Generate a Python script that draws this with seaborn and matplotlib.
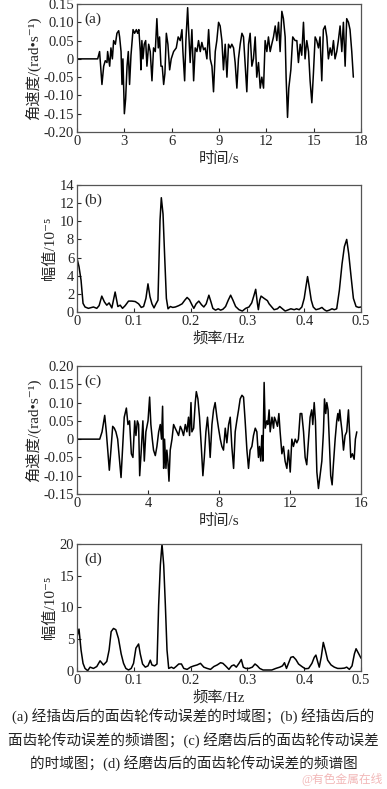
import numpy as np
import matplotlib
matplotlib.use("Agg")
import matplotlib.pyplot as plt
import seaborn as sns

# (a) angular speed error after gear shaping, time domain
t_a = [0, 1.31, 1.43, 1.58, 1.69, 1.79, 1.90, 1.94, 2.07, 2.15, 2.24, 2.32, 2.43, 2.53, 2.64, 2.70, 2.79,
       2.85, 2.91, 3.00, 3.08, 3.17, 3.25, 3.33, 3.42, 3.55, 3.65, 3.76, 3.84, 3.92, 4.01, 4.05, 4.11,
       4.18, 4.26, 4.35, 4.43, 4.54, 4.64, 4.75, 4.85, 4.96, 5.06, 5.15, 5.23, 5.32, 5.40, 5.49, 5.57,
       5.66, 5.76, 5.87, 5.97, 6.12, 6.29, 6.41, 6.54, 6.65, 6.71, 6.82, 6.90, 7.01, 7.07, 7.17, 7.28,
       7.39, 7.49, 7.60, 7.70, 7.81, 7.91, 8.02, 8.12, 8.23, 8.34, 8.44, 8.55, 8.65, 8.76, 8.86, 8.97,
       9.07, 9.18, 9.28, 9.39, 9.50, 9.60, 9.71, 9.81, 9.92, 10.02, 10.13, 10.23, 10.34, 10.45, 10.55,
       10.66, 10.76, 10.87, 10.97, 11.08, 11.18, 11.29, 11.39, 11.50, 11.61, 11.71, 11.82, 11.92, 12.03,
       12.13, 12.24, 12.34, 12.45, 12.56, 12.66, 12.77, 12.87, 12.98, 13.08, 13.19, 13.25, 13.34, 13.42,
       13.55, 13.67, 13.82, 13.93, 14.03, 14.14, 14.24, 14.35, 14.45, 14.56, 14.67, 14.77, 14.88, 14.98,
       15.09, 15.19, 15.30, 15.40, 15.51, 15.61, 15.72, 15.83, 15.93, 16.04, 16.14, 16.25, 16.35, 16.46,
       16.56, 16.67, 16.78, 16.88, 16.99, 17.09, 17.20, 17.30, 17.41, 17.51]
w_a = [0, 0, 0.02, -0.07, -0.02, -0.005, -0.01, 0.02, -0.02, 0.03, 0.0, 0.05, 0.04, 0.07, 0.077, 0.06, 0.02,
       -0.07, 0.0, -0.15, -0.11, -0.02, 0.02, -0.07, 0.01, 0.08, 0.07, 0.08, 0.07, 0.08, 0.02, -0.03, 0.05,
       0.0, 0.04, 0.05, -0.02, 0.04, 0.02, -0.06, 0.03, 0.02, 0.11, 0.03, 0.06, -0.02, -0.02, -0.07, -0.04,
       0.07, 0.04, -0.03, 0.0, 0.02, 0.03, 0.06, 0.05, 0.08, 0.02, -0.06, 0.05, 0.14, 0.08, -0.01, 0.08,
       -0.06, 0.03, 0.02, 0.05, 0.02, 0.045, 0.025, 0.03, 0.0, 0.08, 0.0, -0.02, -0.09, 0.02, 0.05, 0.10,
       0.09, 0.05, -0.03, 0.04, -0.05, 0.04, 0.03, 0.04, 0.03, -0.01, -0.08, 0.0, 0.04, 0.07, 0.06,
       -0.02, -0.09, 0.04, 0.07, -0.02, 0.0, 0.06, -0.05, -0.01, -0.08, -0.05, -0.08, 0.05, 0.02,
       0.06, 0.02, 0.04, 0.06, 0.09, 0.05, 0.10, 0.02, 0.13, 0.11, 0.06, -0.05, -0.16, -0.08,
       -0.03, 0.06, 0.05, 0.05, -0.01, 0.04, 0.01, 0.10, 0.0, 0.05, 0.02, -0.06, -0.12, -0.04,
       0.06, 0.05, 0.03, 0.06, -0.06, 0.08, 0.09, 0.06, 0.0, 0.03, 0.01, 0.05, 0.0, 0.02,
       0.05, 0.09, 0.02, 0.10, -0.02, 0.11, 0.10, 0.08, 0.02, -0.05]

# (b) spectrum of (a)
f_b = [0.0, 0.0035, 0.0071, 0.0106, 0.0141, 0.020, 0.0289, 0.0348, 0.0389, 0.0436, 0.0483, 0.0524, 0.0565,
       0.0613, 0.0671, 0.0719, 0.076, 0.0801, 0.0848, 0.0907, 0.0966, 0.1025, 0.1084, 0.1131, 0.1172,
       0.1213, 0.1249, 0.1284, 0.1319, 0.1355, 0.139, 0.1425, 0.1461, 0.1484, 0.1514, 0.1543, 0.1573,
       0.1602, 0.1643, 0.1685, 0.1732, 0.1791, 0.185, 0.1897, 0.1938, 0.1979, 0.2026, 0.2056, 0.2097,
       0.2144, 0.2191, 0.2232, 0.2274, 0.2321, 0.2356, 0.2391, 0.2438, 0.2486, 0.2527, 0.2568, 0.2615,
       0.2662, 0.2704, 0.2745, 0.2792, 0.2851, 0.291, 0.2969, 0.3027, 0.3075, 0.3116, 0.3145, 0.3175,
       0.3192, 0.3216, 0.324, 0.3293, 0.3351, 0.3381, 0.3428, 0.3469, 0.3528, 0.3569, 0.3616, 0.3664,
       0.3705, 0.3764, 0.3823, 0.3864, 0.3911, 0.3958, 0.3999, 0.4029, 0.4058, 0.4088, 0.4123, 0.4158,
       0.4205, 0.4264, 0.4311, 0.4353, 0.4394, 0.4441, 0.4488, 0.4529, 0.4571, 0.4618, 0.4665, 0.4706,
       0.4747, 0.4783, 0.4824, 0.4865, 0.4912, 0.4959, 0.5]
amp_b = [5.9, 5.0, 3.5, 0.95, 0.55, 0.4, 0.55, 0.4, 0.7, 1.75, 1.1, 0.75, 1.0,
         0.45, 2.2, 0.6, 0.75, 0.4, 0.7, 1.2, 1.2, 1.15, 0.9, 0.5, 0.6,
         1.5, 3.1, 1.7, 0.9, 0.45, 0.9, 1.3, 10.1, 12.6, 10.8, 6.1, 1.5,
         0.35, 0.6, 0.5, 0.55, 0.7, 0.9, 1.3, 1.6, 1.35, 0.75, 0.4, 0.9,
         1.2, 0.8, 0.55, 0.9, 1.85, 1.15, 0.4, 0.2, 0.35, 0.2, 0.3, 0.6,
         1.3, 1.85, 1.3, 0.6, 0.25, 0.1, 0.4, 0.55, 1.0, 1.85, 2.5, 0.95,
         0.25, 1.3, 1.75, 1.5, 1.25, 0.9, 0.55, 0.25, 0.35, 0.6, 0.35, 0.1,
         0.2, 0.35, 0.25, 0.35, 0.25, 0.55, 1.5, 2.75, 3.9, 2.75, 1.3, 0.55,
         0.25, 0.35, 0.5, 0.25, 0.1, 0.2, 0.35, 0.25, 0.35, 2.4, 5.3, 7.2,
         8.0, 6.4, 3.9, 1.5, 0.6, 0.5, 0.55]

# (c) angular speed error after gear grinding, time domain
t_c = [0, 1.28, 1.41, 1.56, 1.65, 1.73, 1.82, 1.91, 2.01, 2.10, 2.19, 2.29, 2.38, 2.48, 2.57, 2.66, 2.78,
       2.87, 2.96, 3.06, 3.15, 3.25, 3.32, 3.40, 3.47, 3.53, 3.62, 3.71, 3.79, 3.88, 4.00, 4.09, 4.16,
       4.24, 4.31, 4.41, 4.50, 4.60, 4.69, 4.76, 4.82, 4.88, 4.93, 5.01, 5.06, 5.12, 5.18, 5.25, 5.35,
       5.44, 5.53, 5.63, 5.72, 5.82, 5.91, 6.00, 6.10, 6.19, 6.28, 6.34, 6.42, 6.47, 6.57, 6.66, 6.72,
       6.81, 6.90, 7.00, 7.09, 7.17, 7.26, 7.35, 7.43, 7.50, 7.60, 7.69, 7.78, 7.88, 7.97, 8.07, 8.16,
       8.25, 8.35, 8.44, 8.54, 8.63, 8.72, 8.82, 8.91, 9.00, 9.10, 9.19, 9.29, 9.38, 9.47, 9.57, 9.66,
       9.75, 9.85, 9.94, 10.04, 10.13, 10.22, 10.28, 10.35, 10.41, 10.47, 10.54, 10.60, 10.69, 10.75,
       10.82, 10.88, 10.98, 11.07, 11.12, 11.20, 11.29, 11.37, 11.44, 11.54, 11.63, 11.72, 11.82, 11.91,
       12.01, 12.10, 12.19, 12.29, 12.38, 12.47, 12.57, 12.66, 12.76, 12.85, 12.94, 13.04, 13.13, 13.22,
       13.28, 13.36, 13.43, 13.51, 13.60, 13.69, 13.79, 13.88, 13.94, 14.01, 14.07, 14.14, 14.22, 14.29,
       14.37, 14.44, 14.54, 14.63, 14.69, 14.74, 14.80, 14.86, 14.93, 15.01, 15.10, 15.19, 15.29, 15.34,
       15.42, 15.51, 15.61, 15.68, 15.76]
w_c = [0, 0, 0.02, 0.065, 0.02, -0.03, -0.085, -0.03, 0.035, 0.03, 0.02, 0.0, -0.05, -0.105, -0.02, 0.06, 0.085,
       0.04, 0.05, -0.04, -0.05, 0.05, 0.01, 0.05, 0.04, -0.10, -0.03, 0.05, -0.06, 0.02, 0.05, 0.115, 0.04,
       0.0, -0.03, -0.045, -0.02, 0.02, 0.04, 0.0, 0.09, -0.08, 0.0, -0.08, -0.03, -0.06, -0.115, -0.03, 0.0,
       0.04, 0.03, 0.02, 0.01, 0.035, 0.025, 0.01, 0.04, 0.02, 0.06, 0.01, 0.10, 0.02, 0.03, 0.10, 0.13,
       0.11, 0.06, -0.02, -0.10, -0.05, 0.02, 0.06, 0.01, -0.05, 0.04, 0.08, 0.10, 0.06, 0.03, 0.0, -0.02,
       -0.03, 0.03, -0.01, 0.04, 0.06, -0.02, -0.08, 0.02, 0.05, 0.08, 0.11, 0.12, 0.115, 0.05, -0.03, -0.08,
       -0.03, -0.02, 0.01, 0.03, 0.02, -0.05, -0.02, -0.06, 0.01, -0.06, 0.155, 0.03, 0.05, 0.04,
       0.08, 0.02, 0.06, 0.03, 0.06, 0.05, 0.035, 0.07, 0.02, -0.04, -0.02, -0.06, -0.08, -0.03,
       -0.09, 0.0, -0.02, 0.0, -0.01, 0.0, 0.07, 0.07, 0.02, -0.05, -0.07, 0.0, 0.06, 0.08,
       0.04, 0.10, 0.05, -0.09, -0.135, -0.10, -0.06, 0.02, 0.11, 0.07, 0.10, 0.08, -0.02, -0.10,
       -0.125, -0.07, 0.0, 0.05, 0.07, 0.05, 0.08, 0.05, 0.02, -0.03, 0.01, 0.02, 0.08, 0.03,
       -0.05, -0.04, -0.055, 0.0, 0.02]

# (d) spectrum of (c)
f_d = [0.0, 0.0035, 0.0071, 0.0106, 0.0141, 0.0188, 0.023, 0.0289, 0.0348, 0.0406, 0.0465, 0.0524, 0.0565,
       0.0601, 0.0642, 0.0683, 0.073, 0.0777, 0.0819, 0.086, 0.0907, 0.0954, 0.0995, 0.1037, 0.1084, 0.1113,
       0.1154, 0.1202, 0.1249, 0.129, 0.1319, 0.1366, 0.1408, 0.1437, 0.1467, 0.1496, 0.1526, 0.1555, 0.1584,
       0.1614, 0.1661, 0.1702, 0.1743, 0.1791, 0.1838, 0.1879, 0.1938, 0.1997, 0.2056, 0.2115, 0.2173, 0.2232,
       0.2291, 0.235, 0.2409, 0.2468, 0.2527, 0.2568, 0.2615, 0.2674, 0.2721, 0.2762, 0.2804, 0.2851, 0.2892,
       0.2927, 0.2969, 0.3027, 0.3086, 0.3133, 0.3175, 0.3216, 0.3275, 0.3351, 0.3428, 0.3499, 0.3569, 0.3616,
       0.3652, 0.3687, 0.3722, 0.3764, 0.3805, 0.3852, 0.3899, 0.3958, 0.4017, 0.4076, 0.4135, 0.4176, 0.4205,
       0.4235, 0.4264, 0.43, 0.4335, 0.437, 0.4412, 0.4471, 0.4529, 0.4588, 0.4647, 0.4706, 0.4747, 0.4794,
       0.4841, 0.4883, 0.4912, 0.4959, 0.5]
amp_d = [5.4, 6.6, 3.3, 1.2, 0.4, 0.05, 0.6, 0.4, 0.7, 1.6, 0.95, 1.5, 3.3,
         6.2, 6.7, 6.5, 5.1, 2.7, 1.2, 0.4, 0.15, 0.4, 1.2, 3.6, 4.25, 2.7,
         1.1, 0.6, 0.8, 1.7, 0.95, 0.8, 1.1, 10.4, 16.7, 20.0, 16.7, 10.4, 3.3,
         0.4, 0.6, 0.4, 0.7, 1.1, 1.1, 0.4, 0.25, 0.6, 0.8, 0.95, 1.2, 0.6,
         0.4, 0.25, 0.7, 0.95, 1.3, 1.2, 0.8, 0.25, 0.8, 0.95, 0.6, 1.2, 1.8,
         0.6, 0.4, 0.4, 0.6, 1.1, 0.8, 0.4, 0.15, 0.15, 0.15, 0.4, 0.6, 0.8,
         1.3, 0.4, 1.2, 2.15, 2.25, 1.8, 1.1, 0.7, 0.35, 0.4, 1.2, 2.15, 2.5,
         1.5, 0.6, 2.25, 4.5, 3.3, 1.7, 0.95, 0.6, 0.4, 0.4, 0.45, 0.6, 0.25,
         0.8, 2.7, 3.5, 2.7, 2.0]

time_label = "时间/s"
freq_label = "频率/Hz"
speed_label = "角速度/(rad•s⁻¹)"
amp_label = "幅值/10⁻⁵"
caption = ["(a) 经插齿后的面齿轮传动误差的时域图；(b) 经插齿后的",
           "面齿轮传动误差的频谱图；(c) 经磨齿后的面齿轮传动误差",
           "的时域图；(d) 经磨齿后的面齿轮传动误差的频谱图"]

sns.set_style("white")
plt.rcParams['font.family'] = ['Liberation Serif', 'DejaVu Serif', 'Noto Sans CJK SC']
plt.rcParams['font.size'] = 10
plt.rcParams['axes.unicode_minus'] = False

fig = plt.figure(figsize=(3.87, 7.89), dpi=100)
L, W = 0.199, 0.734
boxes = [(0.8327, 0.1622), (0.6046, 0.1609), (0.3739, 0.1622), (0.1496, 0.1609)]

panels = [
    (t_a, w_a, "(a)", time_label, speed_label, (0, 18), np.arange(0, 19, 3), (-0.2, 0.15),
     np.arange(-0.2, 0.151, 0.05)),
    (f_b, amp_b, "(b)", freq_label, amp_label, (0, 0.5), np.arange(0, 0.51, 0.1), (0, 14),
     np.arange(0, 15, 2)),
    (t_c, w_c, "(c)", time_label, speed_label, (0, 16), np.arange(0, 17, 4), (-0.15, 0.2),
     np.arange(-0.15, 0.201, 0.05)),
    (f_d, amp_d, "(d)", freq_label, amp_label, (0, 0.5), np.arange(0, 0.51, 0.1), (0, 20),
     np.arange(0, 21, 5)),
]


def fmt_speed(v):
    if abs(v) < 1e-9:
        return "0"
    return "%.2f" % v


def fmt_freq(v):
    if abs(v) < 1e-9:
        return "0"
    return "%.1f" % v


for i, (x, y, tag, xl, yl, xlim, xt, ylim, yt) in enumerate(panels):
    ax = fig.add_axes([L, boxes[i][0], W, boxes[i][1]])
    sns.lineplot(x=x, y=y, ax=ax, color='black', linewidth=1.1, sort=False)
    ax.set_xlim(*xlim)
    ax.set_ylim(*ylim)
    ax.set_xticks(xt)
    ax.set_yticks(yt)
    if i in (0, 2):
        ax.set_yticklabels([fmt_speed(v) for v in yt])
        ax.set_xticklabels([str(int(v)) for v in xt])
    else:
        ax.set_xticklabels([fmt_freq(v) for v in xt])
        ax.set_yticklabels([str(int(round(v))) for v in yt])
    ax.tick_params(direction='in', length=3, width=0.8, labelsize=10.5, pad=2,
                   bottom=True, left=True, top=False, right=False)
    for s in ax.spines.values():
        s.set_color('#555555')
        s.set_linewidth(0.9)
    ax.set_xlabel(xl, fontsize=11, labelpad=3)
    ax.set_ylabel(yl, fontsize=11, labelpad=2)
    ax.text(0.025, 0.93, tag, transform=ax.transAxes, fontsize=11, va='top', ha='left')

ys = [0.093, 0.062, 0.033]
for line, yy in zip(caption, ys):
    fig.text(0.5, yy, line, ha='center', va='center', fontsize=10.5, color='#222222')
fig.text(0.99, 0.012, "@有色金属在线", ha='right', va='center', fontsize=8.5, color='#f2b8b8')

fig.savefig("out.png", dpi=100)
